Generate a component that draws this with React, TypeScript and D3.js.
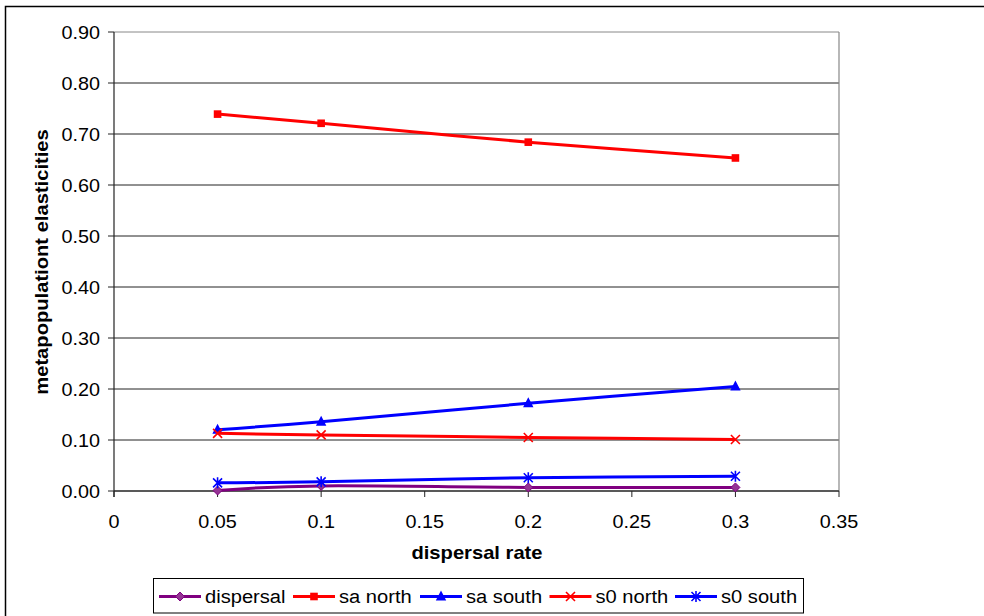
import React from "react";
import * as d3 from "d3";

const xValues = [0.05, 0.1, 0.2, 0.3];
const dispersal = [0.001, 0.01, 0.007, 0.007];
const saNorth = [0.739, 0.721, 0.684, 0.653];
const saSouth = [0.12, 0.136, 0.172, 0.205];
const s0North = [0.113, 0.11, 0.105, 0.101];
const s0South = [0.016, 0.018, 0.026, 0.029];
const yTicks = [0, 0.1, 0.2, 0.3, 0.4, 0.5, 0.6, 0.7, 0.8, 0.9];
const xTicks = [0, 0.05, 0.1, 0.15, 0.2, 0.25, 0.3, 0.35];
const xTickLabels = ["0", "0.05", "0.1", "0.15", "0.2", "0.25", "0.3", "0.35"];

type Series = { name: string; values: number[]; color: string; marker: string };
const series: Series[] = [
  { name: "dispersal", values: dispersal, color: "#800080", marker: "diamond" },
  { name: "sa north", values: saNorth, color: "#FF0000", marker: "square" },
  { name: "sa south", values: saSouth, color: "#0000FF", marker: "triangle" },
  { name: "s0 north", values: s0North, color: "#FF0000", marker: "x" },
  { name: "s0 south", values: s0South, color: "#0000FF", marker: "star" },
];
const legendX = [159, 293, 420, 549.5, 675];

const FONT = "'Liberation Sans', Arial, sans-serif";

function Marker({ type, x, y, color }: { type: string; x: number; y: number; color: string }) {
  const t = `translate(${x},${y})`;
  if (type === "diamond")
    return <path transform={t} d="M0,-4.5L4.5,0L0,4.5L-4.5,0Z" fill="#943494" stroke="#800080" strokeWidth={1} />;
  if (type === "square") return <rect transform={t} x={-3.8} y={-3.8} width={7.6} height={7.6} fill={color} />;
  if (type === "triangle") return <path transform={t} d="M0,-6L5.2,4L-5.2,4Z" fill={color} />;
  if (type === "x")
    return <path transform={t} d="M-4.5,-4.5L4.5,4.5M-4.5,4.5L4.5,-4.5" stroke={color} strokeWidth={1.6} fill="none" />;
  return (
    <path transform={t} d="M-4.5,-4.5L4.5,4.5M-4.5,4.5L4.5,-4.5M0,-5.5L0,5.5" stroke={color} strokeWidth={1.6} fill="none" />
  );
}

export default function App() {
  const W = 984, H = 616;
  const left = 114, right = 839, top = 32, bottom = 491;
  const x = d3.scaleLinear().domain([0, 0.35]).range([left, right]);
  const y = d3.scaleLinear().domain([0, 0.9]).range([bottom, top]);
  const line = d3
    .line<number>()
    .x((_, i) => x(xValues[i]))
    .y((v) => y(v))
    .curve(d3.curveCardinal.tension(0));

  return (
    <svg width={W} height={H} style={{ position: "absolute", left: 0, top: 0 }} fontFamily={FONT}>
      <rect width={W} height={H} fill="#fff" />
      {/* outer frame */}
      <path d={`M5.5,${H + 2}L5.5,6.5L${W + 2},6.5`} stroke="#000" strokeWidth={1.5} fill="none" />
      {/* gridlines */}
      {yTicks.map((t) => (
        <line key={t} x1={left} x2={right} y1={y(t)} y2={y(t)} stroke={t === 0.9 ? "#888" : "#222"} strokeWidth={1} />
      ))}
      <line x1={right} x2={right} y1={top} y2={bottom} stroke="#888" strokeWidth={1.2} />
      {/* axes */}
      <line x1={left} x2={left} y1={top} y2={bottom + 6} stroke="#222" strokeWidth={1.2} />
      <line x1={left} x2={right} y1={bottom} y2={bottom} stroke="#222" strokeWidth={1.2} />
      {yTicks.map((t) => (
        <g key={"yt" + t}>
          <line x1={left - 6} x2={left} y1={y(t)} y2={y(t)} stroke="#222" />
          <text transform={`translate(${left - 14},${y(t) + 6.5}) scale(1.1,1)`} textAnchor="end" fontSize={18} fill="#000">
            {t.toFixed(2)}
          </text>
        </g>
      ))}
      {xTicks.map((t, i) => (
        <g key={"xt" + t}>
          <line x1={x(t)} x2={x(t)} y1={bottom} y2={bottom + 6} stroke="#222" />
          <text transform={`translate(${x(t)},${527.5}) scale(1.1,1)`} textAnchor="middle" fontSize={18} fill="#000">
            {xTickLabels[i]}
          </text>
        </g>
      ))}
      {/* axis titles */}
      <text transform={`translate(477,559) scale(1.12,1)`} textAnchor="middle" fontSize={18} fontWeight="bold">
        dispersal rate
      </text>
      <text transform={`translate(48,262) rotate(-90) scale(1.12,1)`} textAnchor="middle" fontSize={18} fontWeight="bold">
        metapopulationt elasticities
      </text>
      {/* series */}
      {series.map((s) => (
        <g key={s.name}>
          <path d={line(s.values) || ""} fill="none" stroke={s.color} strokeWidth={3} />
          {s.values.map((v, i) => (
            <Marker key={i} type={s.marker} x={x(xValues[i])} y={y(v)} color={s.color} />
          ))}
        </g>
      ))}
      {/* legend */}
      <rect x={153.5} y={578.5} width={650} height={34.5} fill="#fff" stroke="#000" strokeWidth={1} />
      {series.map((s, i) => (
        <g key={"lg" + s.name}>
          <line x1={legendX[i]} x2={legendX[i] + 42} y1={596.5} y2={596.5} stroke={s.color} strokeWidth={3} />
          <Marker type={s.marker} x={legendX[i] + 21} y={596.5} color={s.color} />
          <text transform={`translate(${legendX[i] + 46},602.5) scale(1.06,1)`} fontSize={19} fill="#000">
            {s.name}
          </text>
        </g>
      ))}
    </svg>
  );
}
